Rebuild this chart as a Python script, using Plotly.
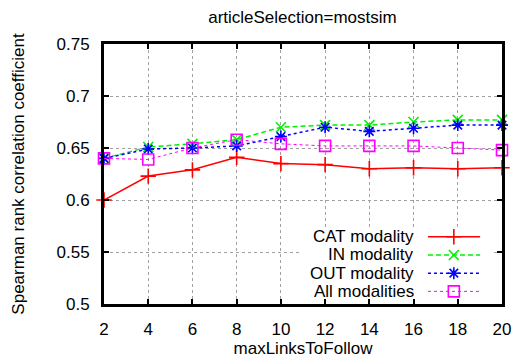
import plotly.graph_objects as go

x_vals = [2, 4, 6, 8, 10, 12, 14, 16, 18, 20]
cat_vals = [0.600, 0.623, 0.629, 0.641, 0.635, 0.634, 0.630, 0.631, 0.630, 0.631]
in_vals = [0.640, 0.651, 0.654, 0.658, 0.670, 0.672, 0.672, 0.675, 0.677, 0.677]
out_vals = [0.640, 0.649, 0.650, 0.652, 0.661, 0.670, 0.666, 0.669, 0.672, 0.672]
all_vals = [0.640, 0.639, 0.650, 0.658, 0.654, 0.652, 0.652, 0.652, 0.650, 0.648]

series_names = ["CAT modality", "IN modality", "OUT modality", "All modalities"]
series_vals = [cat_vals, in_vals, out_vals, all_vals]
colors = ["#ff0000", "#00f000", "#0000ff", "#ff00ff"]
dashes = ["solid", "5px,3px", "dot", "dot"]
widths = [1.5, 1.5, 1.5, 1.0]
symbols = ["cross-thin", "x-thin", "asterisk-open", "square-open"]
msizes = [11, 10, 10, 11]

x_ticks = [2, 4, 6, 8, 10, 12, 14, 16, 18, 20]
y_ticks = [0.5, 0.55, 0.6, 0.65, 0.7, 0.75]
y_ticktext = ["0.5", "0.55", "0.6", "0.65", "0.7", "0.75"]

FONT = "Liberation Sans, Arial, sans-serif"
FS = 17

fig = go.Figure()
for name, vals, c, d, w, s, ms in zip(series_names, series_vals, colors, dashes, widths, symbols, msizes):
    fig.add_trace(go.Scatter(
        x=x_vals, y=vals, mode="lines+markers", name=name,
        line=dict(color=c, dash=d, width=w),
        marker=dict(symbol=s, size=ms, color=c, line=dict(color=c, width=1.6)),
        cliponaxis=False, showlegend=False,
    ))

# white background of the key (covers grid lines)
fig.add_trace(go.Scatter(
    x=[0.49, 0.975, 0.975, 0.49, 0.49], y=[0.015, 0.015, 0.29, 0.29, 0.015],
    xaxis="x2", yaxis="y2", mode="lines", fill="toself", fillcolor="white",
    line=dict(width=0, color="white"), showlegend=False, hoverinfo="skip",
))

# custom gnuplot-style key (text on the left, sample on the right)
key_rows = [0.2585, 0.1885, 0.1185, 0.0485]
for name, c, d, w, s, ms, ky in zip(series_names, colors, dashes, widths, symbols, msizes, key_rows):
    fig.add_trace(go.Scatter(
        x=[0.814, 0.945], y=[ky, ky], xaxis="x2", yaxis="y2", mode="lines",
        line=dict(color=c, dash=d, width=w), showlegend=False, hoverinfo="skip",
        cliponaxis=False,
    ))
    fig.add_trace(go.Scatter(
        x=[0.879], y=[ky], xaxis="x2", yaxis="y2", mode="markers",
        marker=dict(symbol=s, size=ms, color=c, line=dict(color=c, width=1.6)),
        showlegend=False, hoverinfo="skip", cliponaxis=False,
    ))
    fig.add_annotation(
        x=0.782, y=ky, xref="x2", yref="y2", text=name, showarrow=False,
        xanchor="right", yanchor="middle", height=17, valign="middle", borderpad=0,
        font=dict(family=FONT, size=FS, color="black"),
    )

axis_common = dict(
    showline=True, linecolor="black", linewidth=3, mirror="ticks",
    ticks="inside", ticklen=5, tickwidth=1.5, tickcolor="black",
    showgrid=True, gridcolor="#a0a0a0", griddash="dot", gridwidth=1,
    zeroline=False, tickfont=dict(family=FONT, size=FS, color="black"),
    ticklabelstandoff=8, automargin=False,
)

fig.update_layout(
    width=517, height=362,
    margin=dict(l=104, r=15, t=44, b=58),
    paper_bgcolor="white", plot_bgcolor="white",
    title=dict(text="articleSelection=mostsim", x=0.585, xanchor="center", y=0.953, yanchor="middle",
               font=dict(family=FONT, size=FS, color="black")),
    xaxis=dict(range=[2, 20], tickvals=x_ticks, ticktext=[str(v) for v in x_ticks],
               title=dict(text="maxLinksToFollow", font=dict(family=FONT, size=FS, color="black"), standoff=4),
               **axis_common),
    yaxis=dict(range=[0.5, 0.75], tickvals=y_ticks, ticktext=y_ticktext,
               title=dict(text="Spearman rank correlation coefficient", font=dict(family=FONT, size=FS, color="black"), standoff=28),
               **axis_common),
    xaxis2=dict(range=[0, 1], overlaying="x", visible=False, fixedrange=True),
    yaxis2=dict(range=[0, 1], overlaying="y", visible=False, fixedrange=True),
    showlegend=False,
)

fig.write_html("out.html")
